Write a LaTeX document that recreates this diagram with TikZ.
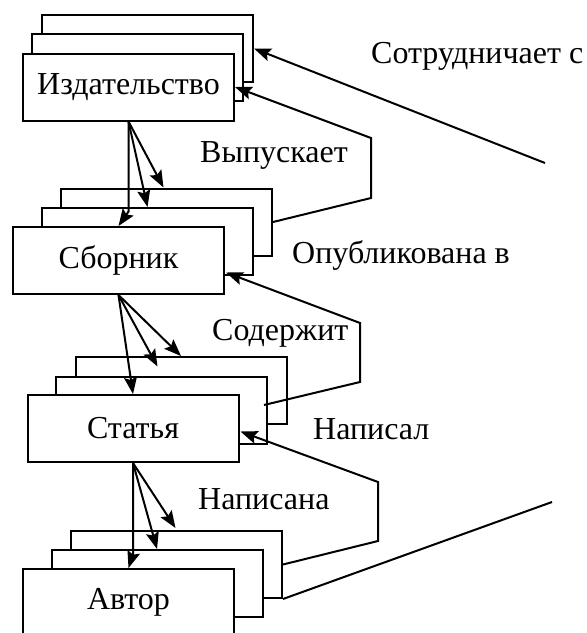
\documentclass[tikz,border=0pt]{standalone}
\usepackage{fontspec}
\setmainfont{Liberation Serif}
\usetikzlibrary{arrows.meta,calc}
\begin{document}
\begin{tikzpicture}[x=1pt,y=-1pt,
  card/.style={draw, fill=white, line width=2pt, minimum width=211pt,
    minimum height=67pt, inner sep=0pt, font=\fontsize{32}{38}\selectfont},
  lbl/.style={anchor=base west, inner sep=0pt, font=\fontsize{32}{38}\selectfont},
  link/.style={line width=2pt, line join=miter},
  arr/.style={link, -{Stealth[length=17pt,width=13pt,inset=3pt]}}]
\useasboundingbox (0,0) rectangle (587,633);

% entity stacks: back card, middle card, front card
\node[card] (izdC) at (147.5,48.5) {};
\node[card] (izdB) at (137.5,67) {};
\node[card] (izdA) at (128.5,87) {Издательство};

\node[card] (sbC) at (166.5,222) {};
\node[card] (sbB) at (147.5,241.5) {};
\node[card] (sbA) at (118.5,260.5) {Сборник};

\node[card] (stC) at (181,390.5) {};
\node[card] (stB) at (161.5,410) {};
\node[card] (stA) at (133,428.5) {Статья};

\node[card] (avC) at (176.5,564.5) {};
\node[card] (avB) at (157,583.5) {};
\node[card] (avA) at (128.5,602.5) {Автор};

% relationship labels
\node[lbl] (coopL) at (371,63) {Сотрудничает с};
\node[lbl] (vypL) at (200,162) {Выпускает};
\node[lbl] (opubL) at (292,263) {Опубликована в};
\node[lbl] (sodL) at (212,340) {Содержит};
\node[lbl] (napL) at (313,439) {Написал};
\node[lbl] (napaL) at (198,509) {Написана};

% one-to-many fans
\draw[arr] (izdA.south) -- ++(0,90) -- (sbA.north);
\draw[arr] (izdA.south) -- (sbB.north);
\draw[arr] (izdA.south) -- ($(sbC.north)+(-3,0)$);

\draw[arr] (sbA.south) -- (stA.north);
\draw[arr] (sbA.south) -- ($(stB.north)+(-4,-9)$);
\draw[arr] (sbA.south) -- (stC.north);

\draw[arr] (stA.south) -- ++(0,91) -- (avA.north);
\draw[arr] (stA.south) -- (avB.north);
\draw[arr] (stA.south) -- ($(avC.north)+(-1,-2)$);

% back links
\coordinate (p1) at (371,198);
\coordinate (p2) at (371,138);
\draw[arr] (sbC.east) -- (p1) -- (p2) -- (izdA.east);

\coordinate (q1) at (360,382);
\coordinate (q2) at (360,323);
\draw[arr] ($(stB.east)+(-4,-5)$) -- (q1) -- (q2) -- ($(sbA.east)+(1,12)$);

\coordinate (r1) at (378,541);
\coordinate (r2) at (378,482);
\draw[arr] (avC.east) -- (r1) -- (r2) -- ($(stA.east)+(1,3)$);

% cooperation link, running off to the right
\coordinate (coopTop) at (545,163);
\coordinate (coopBot) at (552,502);
\draw[arr] (coopTop) -- (izdC.east);
\draw[link] (avC.south east) -- (coopBot);
\end{tikzpicture}
\end{document}
